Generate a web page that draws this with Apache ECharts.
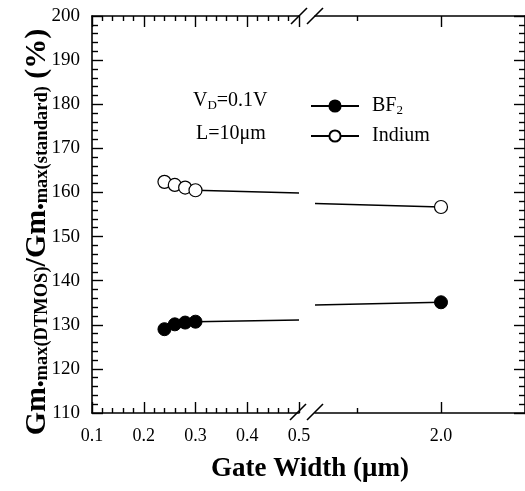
<!DOCTYPE html>
<html><head><meta charset="utf-8">
<script src="https://cdn.jsdelivr.net/npm/echarts@6/dist/echarts.min.js"></script>
<style>html,body{margin:0;padding:0;background:#fff}#c{width:525px;height:491px}</style>
</head><body><div id="c"></div>
<script>
// ---- data ----
const leftTicks = [0.1, 0.2, 0.3, 0.4, 0.5];
const rightTicks = [2.0];
const rightMinorTicks = [1.5];
const widthsLeft = [0.24, 0.26, 0.28, 0.30];
const bf2Left = [129.0, 130.1, 130.5, 130.7];
const indiumLeft = [162.4, 161.7, 161.1, 160.5];
const widthsRight = [2.0];
const bf2Right = [135.1];
const indiumRight = [156.7];
// fitted trend lines (endpoints)
const fitXLeft = [0.30, 0.50];
const fitXRight = [1.25, 2.0];
const bf2FitLeft = [130.7, 131.1];
const bf2FitRight = [134.5, 135.1];
const indiumFitLeft = [160.5, 159.9];
const indiumFitRight = [157.5, 156.7];

const zip = (xs, ys) => xs.map((x, i) => [x, ys[i]]);
const FONT = "'Liberation Serif', 'Times New Roman', serif";
const chart = echarts.init(document.getElementById('c'), null, {renderer: 'canvas'});

const axisLine = {show: true, lineStyle: {color: '#000', width: 1.6}};
const tickStyle = {color: '#000', width: 1.4};
const labelStyle = {color: '#000', fontFamily: FONT, fontSize: 18};

const grids = [
  {left: 92, top: 16, width: 207, height: 397},
  {left: 315, top: 16, width: 210, height: 397}
];

const xAxes = [
  {gridIndex: 0, type: 'value', position: 'bottom', min: 0.1, max: 0.5, interval: 0.1,
   axisLine, splitLine: {show: false},
   axisTick: {inside: true, length: 11, lineStyle: tickStyle},
   minorTick: {show: true, splitNumber: 5, length: 5, lineStyle: tickStyle},
   axisLabel: Object.assign({margin: 14, showMinLabel: true, showMaxLabel: true,
     formatter: v => v.toFixed(1)}, labelStyle)},
  {gridIndex: 0, type: 'value', position: 'top', min: 0.1, max: 0.5, interval: 0.1,
   axisLine, splitLine: {show: false},
   axisTick: {inside: true, length: 11, lineStyle: tickStyle},
   minorTick: {show: true, splitNumber: 5, length: 5, lineStyle: tickStyle},
   axisLabel: {show: false}},
  {gridIndex: 1, type: 'value', position: 'bottom', min: 1.25, max: 2.5,
   axisLine, splitLine: {show: false},
   axisTick: {inside: true, length: 11, lineStyle: tickStyle, customValues: rightTicks},
   axisLabel: Object.assign({margin: 14, customValues: rightTicks,
     formatter: v => v.toFixed(1)}, labelStyle)},
  {gridIndex: 1, type: 'value', position: 'top', min: 1.25, max: 2.5,
   axisLine, splitLine: {show: false},
   axisTick: {inside: true, length: 11, lineStyle: tickStyle, customValues: rightTicks},
   axisLabel: {show: false}},
  {gridIndex: 1, type: 'value', position: 'bottom', min: 1.25, max: 2.5,
   axisLine: {show: false}, splitLine: {show: false},
   axisTick: {inside: true, length: 5, lineStyle: tickStyle, customValues: rightMinorTicks},
   axisLabel: {show: false}},
  {gridIndex: 1, type: 'value', position: 'top', min: 1.25, max: 2.5,
   axisLine: {show: false}, splitLine: {show: false},
   axisTick: {inside: true, length: 5, lineStyle: tickStyle, customValues: rightMinorTicks},
   axisLabel: {show: false}}
];

const yAxes = [
  {gridIndex: 0, type: 'value', position: 'left', min: 110, max: 200, interval: 10,
   axisLine, splitLine: {show: false},
   axisTick: {inside: true, length: 11, lineStyle: tickStyle},
   minorTick: {show: true, splitNumber: 5, length: 6, lineStyle: tickStyle},
   axisLabel: Object.assign({margin: 12, showMinLabel: true, showMaxLabel: true}, labelStyle, {fontSize: 19})},
  {gridIndex: 1, type: 'value', position: 'right', min: 110, max: 200, interval: 10,
   axisLine, splitLine: {show: false},
   axisTick: {inside: true, length: 11, lineStyle: tickStyle},
   minorTick: {show: true, splitNumber: 5, length: 6, lineStyle: tickStyle},
   axisLabel: {show: false}}
];

const pointSeries = (name, xi, yi, xs, ys, filled) => ({
  name, type: 'line', xAxisIndex: xi, yAxisIndex: yi, data: zip(xs, ys),
  symbol: 'circle', symbolSize: 13, z: 5,
  lineStyle: {color: '#000', width: 1.5},
  itemStyle: filled ? {color: '#000', borderColor: '#000', borderWidth: 1}
                    : {color: '#fff', borderColor: '#000', borderWidth: 1.2},
  emphasis: {disabled: true}, animation: false
});
const fitSeries = (xi, yi, xs, ys) => ({
  type: 'line', xAxisIndex: xi, yAxisIndex: yi, data: zip(xs, ys),
  symbol: 'none', z: 3, lineStyle: {color: '#000', width: 1.5}, animation: false
});

const slash = (x, y) => ({type: 'line', shape: {x1: x - 8, y1: y + 8, x2: x + 8, y2: y - 8},
  style: {stroke: '#000', lineWidth: 1.6}, z: 100});

chart.setOption({
  backgroundColor: '#fff',
  animation: false,
  grid: grids,
  xAxis: xAxes,
  yAxis: yAxes,
  legend: {
    data: ['BF2', 'Indium'], orient: 'vertical', left: 310, top: 96, padding: 0,
    itemWidth: 48, itemHeight: 14, itemGap: 9,
    textStyle: {color: '#000', fontFamily: FONT, fontSize: 20, padding: [0, 0, 0, 8],
      rich: {s: {fontFamily: FONT, fontSize: 13, verticalAlign: 'bottom', padding: [9, 0, 0, 0]}}},
    formatter: n => n === 'BF2' ? 'BF{s|2}' : n
  },
  series: [
    fitSeries(0, 0, fitXLeft, bf2FitLeft),
    fitSeries(2, 1, fitXRight, bf2FitRight),
    fitSeries(0, 0, fitXLeft, indiumFitLeft),
    fitSeries(2, 1, fitXRight, indiumFitRight),
    pointSeries('BF2', 0, 0, widthsLeft, bf2Left, true),
    pointSeries('BF2', 2, 1, widthsRight, bf2Right, true),
    pointSeries('Indium', 0, 0, widthsLeft, indiumLeft, false),
    pointSeries('Indium', 2, 1, widthsRight, indiumRight, false)
  ],
  graphic: [
    slash(299, 16), slash(315, 16), slash(298, 412), slash(315, 412),
    {type: 'text', x: 193, y: 101, style: {
      text: 'V{s|D}=0.1V', font: '20px ' + FONT, fill: '#000', textVerticalAlign: 'middle',
      rich: {s: {fontFamily: FONT, fontSize: 13, verticalAlign: 'bottom', padding: [9, 0, 0, 0]}}}},
    {type: 'text', x: 196, y: 134, style: {
      text: 'L=10μm', font: '20px ' + FONT, fill: '#000', textVerticalAlign: 'middle'}},
    {type: 'text', x: 310, y: 469, style: {
      text: 'Gate Width (μm)', font: 'bold 27px ' + FONT, fill: '#000',
      textAlign: 'center', textVerticalAlign: 'middle'}},
    {type: 'text', x: 36, y: 232, rotation: Math.PI / 2, style: {
      text: '{b|Gm}{s|•max(DTMOS)}{b|/Gm}{s|•max(standard)}{b| (%)}',
      fill: '#000', textAlign: 'center', textVerticalAlign: 'middle',
      rich: {
        b: {fontFamily: FONT, fontWeight: 'bold', fontSize: 30, lineHeight: 32, verticalAlign: 'bottom'},
        s: {fontFamily: FONT, fontWeight: 'bold', fontSize: 18.5, lineHeight: 32, verticalAlign: 'bottom', padding: [5, 0, 0, 0]}
      }}}
  ]
});
</script></body></html>
